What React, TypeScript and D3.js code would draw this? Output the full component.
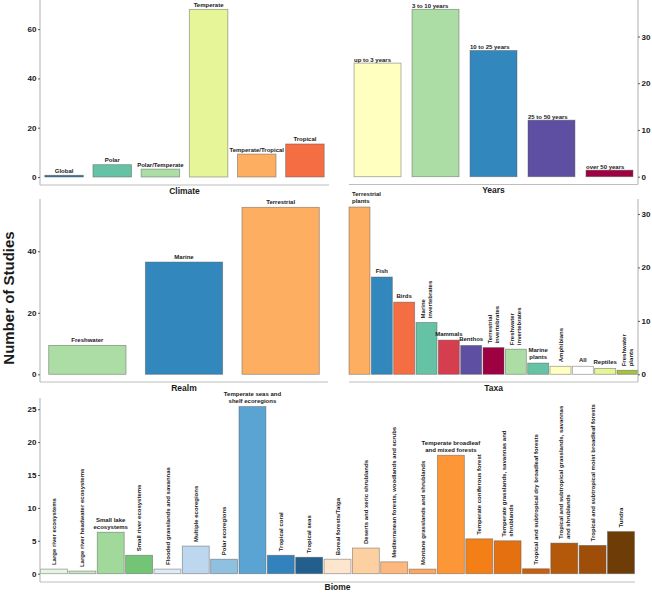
import React, { useEffect, useRef } from "react";
import * as d3 from "d3";

// ---- data ----
const climateCats = ["Global", "Polar", "Polar/Temperate", "Temperate", "Temperate/Tropical", "Tropical"];
const climateVals = [0.7, 5, 3.2, 68, 9.3, 13.4];
const climateColors = ["#2f74a8", "#66c2a5", "#abdda4", "#e6f598", "#fdae61", "#f46d43"];
const climateTicks = [0, 20, 40, 60];

const yearsCats = ["up to 3 years", "3 to 10 years", "10 to 25 years", "25 to 50 years", "over 50 years"];
const yearsVals = [24.3, 35.8, 27, 12.1, 1.4];
const yearsColors = ["#ffffbf", "#abdda4", "#3288bd", "#5e4fa2", "#9e0142"];
const yearsTicks = [0, 10, 20, 30];

const realmCats = ["Freshwater", "Marine", "Terrestrial"];
const realmVals = [9.4, 36.5, 54.3];
const realmColors = ["#abdda4", "#3288bd", "#fdae61"];
const realmTicks = [0, 20, 40];

const taxaCats = [
  "Terrestrial\nplants", "Fish", "Birds", "Marine\ninvertebrates", "Mammals", "Benthos",
  "Terrestrial\ninvertebrates", "Freshwater\ninvertebrates", "Marine\nplants", "Amphibians",
  "All", "Reptiles", "Freshwater\nplants",
];
const taxaVals = [31.3, 18.2, 13.5, 9.7, 6.4, 5.4, 5.0, 4.7, 2.1, 1.5, 1.5, 1.1, 0.75];
const taxaColors = [
  "#fdae61", "#3288bd", "#f46d43", "#66c2a5", "#d53e4f", "#5e4fa2",
  "#9e0142", "#abdda4", "#66c2a5", "#ffffbf", "#ffffff", "#e6f598", "#a6c23c",
];
const taxaTicks = [0, 10, 20, 30];
const taxaRotated = ["Marine\ninvertebrates", "Terrestrial\ninvertebrates", "Freshwater\ninvertebrates", "Amphibians", "Freshwater\nplants"];

const biomeCats = [
  "Large river ecosystems", "Large river headwater ecosystems", "Small lake\necosystems",
  "Small river ecosystems", "Flooded grasslands and savannas", "Multiple ecoregions",
  "Polar ecoregions", "Temperate seas and\nshelf ecoregions", "Tropical coral", "Tropical seas",
  "Boreal forests/Taiga", "Deserts and xeric shrublands",
  "Mediterranean forests, woodlands and scrubs", "Montane grasslands and shrublands",
  "Temperate broadleaf\nand mixed forests", "Temperate coniferous forest",
  "Temperate grasslands, savannas and\nshrublands", "Tropical and subtropical dry broadleaf forests",
  "Tropical and subtropical grasslands, savannas\nand shrublands",
  "Tropical and subtropical moist broadleaf forests", "Tundra",
];
const biomeVals = [0.7, 0.4, 6.3, 2.8, 0.7, 4.2, 2.2, 25.4, 2.8, 2.5, 2.2, 3.9, 1.8, 0.7, 18, 5.3, 5.0, 0.75, 4.65, 4.3, 6.4];
const biomeColors = [
  "#e5f5e0", "#c7e9c0", "#a1d99b", "#74c476", "#deebf7", "#bdd7ee", "#8fc0e0",
  "#5aa4d4", "#3182bd", "#225f8d", "#fee6ce", "#fdd0a2", "#fdb97d", "#fca65f",
  "#fd9636", "#f57f17", "#e4700f", "#c95f0b", "#b4580a", "#9e4e08", "#6e3c07",
];
const biomeTicks = [0, 5, 10, 15, 20, 25];
const biomeHorizontal = ["Small lake\necosystems", "Temperate seas and\nshelf ecoregions", "Temperate broadleaf\nand mixed forests"];

const FONT = "'Liberation Sans', Arial, Helvetica, sans-serif";
const TXT = "#1a1a1a";

type Panel = {
  cats: string[];
  vals: number[];
  colors: string[];
  ticks: number[];
  title: string;
  side: "left" | "right";
  x0: number;
  x1: number;
  padIn: number;
  padOut: number;
  yMax: number;
  zeroY: number;
  topY: number;
  axisY: number;
  titleY: number;
  gap: number;
  mode: (c: string) => "center" | "left" | "rot";
};

export default function App() {
  const ref = useRef<SVGSVGElement | null>(null);

  useEffect(() => {
    const svg = d3.select(ref.current);
    svg.selectAll("*").remove();

    const panels: Panel[] = [
      {
        cats: climateCats, vals: climateVals, colors: climateColors, ticks: climateTicks,
        title: "Climate", side: "left", x0: 40, x1: 329, padIn: 0.2, padOut: 0.1,
        yMax: 71.8, zeroY: 177, topY: 0, axisY: 185, titleY: 194, gap: 2.5,
        mode: () => "center",
      },
      {
        cats: yearsCats, vals: yearsVals, colors: yearsColors, ticks: yearsTicks,
        title: "Years", side: "right", x0: 349, x1: 638, padIn: 0.19, padOut: 0.087,
        yMax: 37.8, zeroY: 176.7, topY: 0, axisY: 184.5, titleY: 193, gap: 1,
        mode: () => "left",
      },
      {
        cats: realmCats, vals: realmVals, colors: realmColors, ticks: realmTicks,
        title: "Realm", side: "left", x0: 40, x1: 328, padIn: 0.2, padOut: 0.09,
        yMax: 57.0, zeroY: 374.3, topY: 199, axisY: 382, titleY: 390.5, gap: 3.5,
        mode: () => "center",
      },
      {
        cats: taxaCats, vals: taxaVals, colors: taxaColors, ticks: taxaTicks,
        title: "Taxa", side: "right", x0: 349, x1: 638, padIn: 0.06, padOut: 0.0,
        yMax: 32.8, zeroY: 374.3, topY: 199, axisY: 382, titleY: 390.5, gap: 4,
        mode: (c) => (taxaRotated.includes(c) ? "rot" : c.startsWith("Terrestrial\nplants") ? "left" : "center"),
      },
      {
        cats: biomeCats, vals: biomeVals, colors: biomeColors, ticks: biomeTicks,
        title: "Biome", side: "left", x0: 40, x1: 635, padIn: 0.05, padOut: 0.02,
        yMax: 26.7, zeroY: 573.7, topY: 398, axisY: 582, titleY: 589.5, gap: 3.5,
        mode: (c) => (biomeHorizontal.includes(c) ? "center" : "rot"),
      },
    ];

    panels.forEach((p) => {
      const g = svg.append("g");
      const x = d3.scaleBand<string>().domain(p.cats).range([p.x0, p.x1]).paddingInner(p.padIn).paddingOuter(p.padOut);
      const y = d3.scaleLinear().domain([0, p.yMax]).range([p.zeroY, p.topY]);
      const bw = x.bandwidth();

      // bars
      g.selectAll("rect.bar")
        .data(p.cats)
        .join("rect")
        .attr("class", "bar")
        .attr("x", (c) => x(c)!)
        .attr("y", (c, i) => y(p.vals[i]))
        .attr("width", bw)
        .attr("height", (c, i) => p.zeroY - y(p.vals[i]))
        .attr("fill", (c, i) => p.colors[i])
        .attr("stroke", "#555")
        .attr("stroke-opacity", 0.55)
        .attr("stroke-width", 0.8);

      // axis lines
      const axX = p.side === "left" ? p.x0 : p.x1;
      g.append("line")
        .attr("x1", axX).attr("x2", axX).attr("y1", p.topY).attr("y2", p.axisY)
        .attr("stroke", "#bdbdbd").attr("stroke-width", 1.2);
      g.append("line")
        .attr("x1", p.x0).attr("x2", p.x1).attr("y1", p.axisY).attr("y2", p.axisY)
        .attr("stroke", "#bdbdbd").attr("stroke-width", 1.2);

      // ticks
      const axis = (p.side === "left" ? d3.axisLeft(y) : d3.axisRight(y))
        .tickValues(p.ticks)
        .tickSize(2)
        .tickSizeOuter(0)
        .tickPadding(1.5)
        .tickFormat(d3.format("d"));
      const ag = g.append("g").attr("transform", `translate(${axX},0)`).call(axis);
      ag.select(".domain").remove();
      ag.selectAll("line").attr("stroke", "#333").attr("stroke-width", 0.8);
      ag.selectAll("text")
        .attr("fill", TXT)
        .style("font-family", FONT)
        .style("font-weight", "bold")
        .style("font-size", "8px");

      // title
      g.append("text")
        .attr("x", (p.x0 + p.x1) / 2)
        .attr("y", p.titleY)
        .attr("text-anchor", "middle")
        .attr("fill", TXT)
        .style("font-family", FONT)
        .style("font-weight", "bold")
        .style("font-size", "8.5px")
        .text(p.title);

      // bar labels
      const fs = 6;
      const lh = 7;
      p.cats.forEach((c, i) => {
        const lines = c.split("\n");
        const n = lines.length;
        const top = y(p.vals[i]);
        const cx = x(c)! + bw / 2;
        const m = p.mode(c);
        const t = g.append("text")
          .attr("fill", TXT)
          .style("font-family", FONT)
          .style("font-weight", "bold")
          .style("font-size", `${fs}px`);
        if (m === "rot") {
          t.attr("transform", `translate(${cx},${top - 4}) rotate(-90)`).attr("text-anchor", "start");
          lines.forEach((l, k) => {
            t.append("tspan").attr("x", 0).attr("y", (k - (n - 1) / 2) * lh + fs * 0.35).text(l);
          });
        } else {
          const tx = m === "left" ? x(c)! + (c.startsWith("Terrestrial") ? 3 : 0) : cx;
          t.attr("text-anchor", m === "left" ? "start" : "middle");
          lines.forEach((l, k) => {
            t.append("tspan").attr("x", tx).attr("y", top - p.gap - (n - 1 - k) * lh).text(l);
          });
        }
      });
    });

    // shared y label
    svg.append("text")
      .attr("transform", "translate(14,298) rotate(-90)")
      .attr("text-anchor", "middle")
      .attr("fill", TXT)
      .style("font-family", FONT)
      .style("font-weight", "bold")
      .style("font-size", "15px")
      .text("Number of Studies");
  }, []);

  return (
    <svg
      ref={ref}
      width={652}
      height={593}
      style={{ position: "absolute", left: 0, top: 0, background: "#fff" }}
    />
  );
}
